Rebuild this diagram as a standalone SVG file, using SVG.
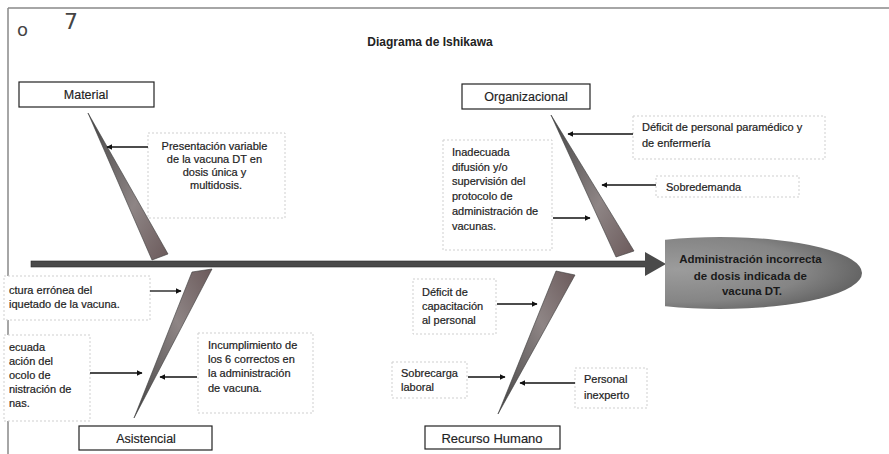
<svg xmlns="http://www.w3.org/2000/svg" width="889" height="454" viewBox="0 0 889 454">
<style>
.cat{fill:#fff;stroke:#222;stroke-width:1.2}
.cbox{fill:#fff;stroke:#cfcfcf;stroke-width:1;stroke-dasharray:2,2}
.t{font-family:"Liberation Sans",Arial,sans-serif;font-size:11px;fill:#222;stroke:#222;stroke-width:0.2}
.tc{font-family:"Liberation Sans",Arial,sans-serif;font-size:12.5px;fill:#222;stroke:#222;stroke-width:0.15;text-anchor:middle}
.arr{stroke:#111;stroke-width:1.3;fill:none;marker-end:url(#ah)}
.bone{stroke:#3a3a3a;stroke-width:0.6}
</style>
<defs>
<marker id="ah" viewBox="0 0 10 10" refX="9" refY="5" markerWidth="6" markerHeight="6" orient="auto" markerUnits="userSpaceOnUse">
<path d="M0,0 L10,5 L0,10 z" fill="#111"/>
</marker>
<linearGradient id="gTop" x1="0" y1="0" x2="1" y2="1">
<stop offset="0" stop-color="#444"/>
<stop offset="0.6" stop-color="#8e8585"/>
<stop offset="1" stop-color="#6b5a5b"/>
</linearGradient>
<linearGradient id="gBot" x1="0" y1="1" x2="1" y2="0">
<stop offset="0" stop-color="#444"/>
<stop offset="0.6" stop-color="#8e8585"/>
<stop offset="1" stop-color="#6b5a5b"/>
</linearGradient>
<radialGradient id="gEff" cx="0.35" cy="0.45" r="0.75">
<stop offset="0" stop-color="#9c9c9c"/>
<stop offset="0.6" stop-color="#858585"/>
<stop offset="1" stop-color="#555"/>
</radialGradient>
<clipPath id="effClip"><rect x="665" y="200" width="224" height="140"/></clipPath>
</defs>

<rect width="889" height="454" fill="#fff"/>
<line x1="8" y1="8" x2="889" y2="8" stroke="#888" stroke-width="1.5"/>
<line x1="8" y1="8" x2="8" y2="454" stroke="#888" stroke-width="1.5"/>
<text x="17" y="36" font-family="DejaVu Sans,sans-serif" font-size="18" fill="#444">o</text>
<text x="64" y="29" font-family="DejaVu Sans,sans-serif" font-size="22" fill="#444">7</text>

<text x="430" y="46" font-family="Liberation Sans,Arial,sans-serif" font-size="12" font-weight="bold" fill="#222" text-anchor="middle">Diagrama de Ishikawa</text>

<g id="spine">
<rect x="31" y="261" width="616" height="6" fill="#4a4a4a" stroke="#2a2a2a" stroke-width="0.6"/>
<polygon points="645,252 666,264 645,276" fill="#4a4a4a"/>
</g>

<g id="effect">
<ellipse cx="720" cy="273" rx="142" ry="36" fill="url(#gEff)" clip-path="url(#effClip)"/>
<text font-family="Liberation Sans,Arial,sans-serif" font-size="11.5" font-weight="bold" fill="#1a1a1a" text-anchor="middle">
<tspan x="752" y="263">Administración incorrecta</tspan>
<tspan x="752" y="280">de dosis indicada de</tspan>
<tspan x="752" y="295">vacuna DT.</tspan>
</text>
</g>

<g id="bones">
<polygon class="bone" points="88,113 152,260 168,254" fill="url(#gTop)"/>
<polygon class="bone" points="551,115 616,257 634,251" fill="url(#gTop)"/>
<polygon class="bone" points="192,272 212,269 134,418" fill="url(#gBot)"/>
<polygon class="bone" points="556,271 575,275 498,414" fill="url(#gBot)"/>
</g>

<g id="material">
<rect class="cat" x="19" y="82" width="135" height="25"/>
<text class="tc" x="86" y="99">Material</text>
</g>
<g id="organizacional">
<rect class="cat" x="462" y="84" width="128" height="25"/>
<text class="tc" x="526" y="101">Organizacional</text>
</g>
<g id="asistencial">
<rect class="cat" x="79" y="426" width="133" height="24"/>
<text class="tc" x="146" y="443">Asistencial</text>
</g>
<g id="recurso-humano">
<rect class="cat" x="425" y="426" width="135" height="23"/>
<text class="tc" x="492" y="443" style="font-size:13px">Recurso Humano</text>
</g>

<g id="cause-presentacion">
<rect class="cbox" x="148" y="133" width="137" height="85"/>
<text class="t" text-anchor="middle">
<tspan x="216" y="150">Presentación variable</tspan>
<tspan x="216" y="163">de la vacuna DT en</tspan>
<tspan x="216" y="176">dosis única y</tspan>
<tspan x="216" y="189">multidosis.</tspan>
</text>
</g>
<g id="cause-deficit-personal">
<rect class="cbox" x="633" y="116" width="192" height="43"/>
<text class="t"><tspan x="642" y="131">Déficit de personal paramédico y</tspan><tspan x="642" y="147">de enfermería</tspan></text>
</g>
<g id="cause-sobredemanda">
<rect class="cbox" x="656" y="176" width="143" height="21"/>
<text class="t" x="666" y="191">Sobredemanda</text>
</g>
<g id="cause-inadecuada-difusion">
<rect class="cbox" x="443" y="140" width="109" height="110"/>
<text class="t">
<tspan x="452" y="156">Inadecuada</tspan>
<tspan x="452" y="171">difusión y/o</tspan>
<tspan x="452" y="185">supervisión del</tspan>
<tspan x="452" y="200">protocolo de</tspan>
<tspan x="452" y="215">administración de</tspan>
<tspan x="452" y="230">vacunas.</tspan>
</text>
</g>
<g id="cause-lectura">
<rect class="cbox" x="4" y="276" width="146" height="44"/>
<text class="t"><tspan x="9" y="294">ctura errónea del</tspan><tspan x="9" y="308">iquetado de la vacuna.</tspan></text>
</g>
<g id="cause-inadecuada-aplicacion">
<rect class="cbox" x="4" y="335" width="86" height="86"/>
<text class="t">
<tspan x="9" y="351">ecuada</tspan>
<tspan x="9" y="365">ación del</tspan>
<tspan x="9" y="379">ocolo de</tspan>
<tspan x="9" y="393">nistración de</tspan>
<tspan x="9" y="407">nas.</tspan>
</text>
</g>
<g id="cause-incumplimiento">
<rect class="cbox" x="198" y="333" width="115" height="80"/>
<text class="t">
<tspan x="208" y="349">Incumplimiento de</tspan>
<tspan x="208" y="363">los 6 correctos en</tspan>
<tspan x="208" y="377">la administración</tspan>
<tspan x="208" y="392">de vacuna.</tspan>
</text>
</g>
<g id="cause-capacitacion">
<rect class="cbox" x="413" y="279" width="83" height="55"/>
<text class="t"><tspan x="422" y="296">Déficit de</tspan><tspan x="422" y="310">capacitación</tspan><tspan x="422" y="324">al personal</tspan></text>
</g>
<g id="cause-sobrecarga">
<rect class="cbox" x="392" y="362" width="75" height="36"/>
<text class="t"><tspan x="401" y="377">Sobrecarga</tspan><tspan x="401" y="391">laboral</tspan></text>
</g>
<g id="cause-inexperto">
<rect class="cbox" x="575" y="368" width="72" height="40"/>
<text class="t"><tspan x="584" y="383">Personal</tspan><tspan x="584" y="399">inexperto</tspan></text>
</g>

<g id="connectors">
<line class="arr" x1="148" y1="147" x2="107" y2="147"/>
<line class="arr" x1="633" y1="134" x2="568" y2="134"/>
<line class="arr" x1="656" y1="185" x2="602" y2="185"/>
<line class="arr" x1="553" y1="218" x2="590" y2="218"/>
<line class="arr" x1="150" y1="291" x2="181" y2="291"/>
<line class="arr" x1="90" y1="373" x2="142" y2="373"/>
<line class="arr" x1="197" y1="377" x2="160" y2="377"/>
<line class="arr" x1="497" y1="304" x2="537" y2="304"/>
<line class="arr" x1="468" y1="377" x2="505" y2="377"/>
<line class="arr" x1="575" y1="383" x2="520" y2="383"/>
</g>
</svg>
